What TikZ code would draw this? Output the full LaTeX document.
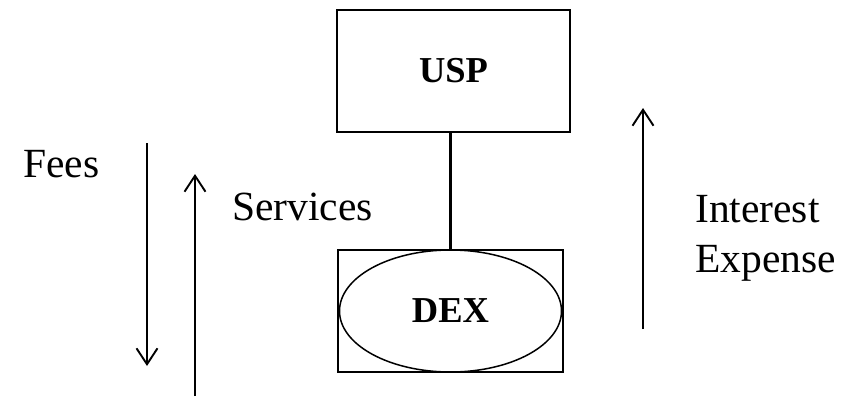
\documentclass[tikz,border=0pt]{standalone}
\usepackage{fontspec}
\setmainfont{Liberation Serif}
\usetikzlibrary{arrows.meta, shapes.geometric, positioning}

\begin{document}
\begin{tikzpicture}[x=1pt, y=-1pt,
                  lbl/.style={inner sep=0pt, anchor=base west, font=\fontsize{41.5}{50}\selectfont},
                  ent/.style={draw, line width=2.1pt, inner sep=0pt, font=\bfseries\fontsize{36.5}{40}\selectfont},
                  flow/.style={line width=1.9pt, -{Straight Barb[length=16pt, width=21pt, line width=1.9pt]}}]

    \useasboundingbox (0, 0) rectangle (850, 396); % same size as the reference

    \node [ent, minimum width=233pt, minimum height=122pt] (usp) at (453.5, 71) {USP};
    \node [ent, minimum width=225pt, minimum height=122pt] (dexbox) at (450.5, 311) {};
    \node [ent, ellipse, line width=1.5pt, minimum width=222pt, minimum height=122pt] (dex) at (dexbox.center) {DEX};

    \draw [line width=2.7pt] (dexbox.north) -- (dexbox.north |- usp.south);

    \node [lbl] (fees) at (23, 177) {Fees};
    \node [lbl] (services) at (232, 220) {Services};
    \node [lbl] (interest) at (695, 222) {Interest};
    \node [lbl] (expense) at (695, 272) {Expense};

    \coordinate (feesA) at (147, 143);
    \coordinate (feesB) at (147, 366);
    \coordinate (servA) at (195, 396);
    \coordinate (servB) at (195, 174);
    \coordinate (intA)  at (643, 329);
    \coordinate (intB)  at (643, 108);

    \draw [flow] (feesA) -- (feesB);
    \draw [flow] (servA) -- (servB);
    \draw [flow] (intA) -- (intB);

\end{tikzpicture}
\end{document}
